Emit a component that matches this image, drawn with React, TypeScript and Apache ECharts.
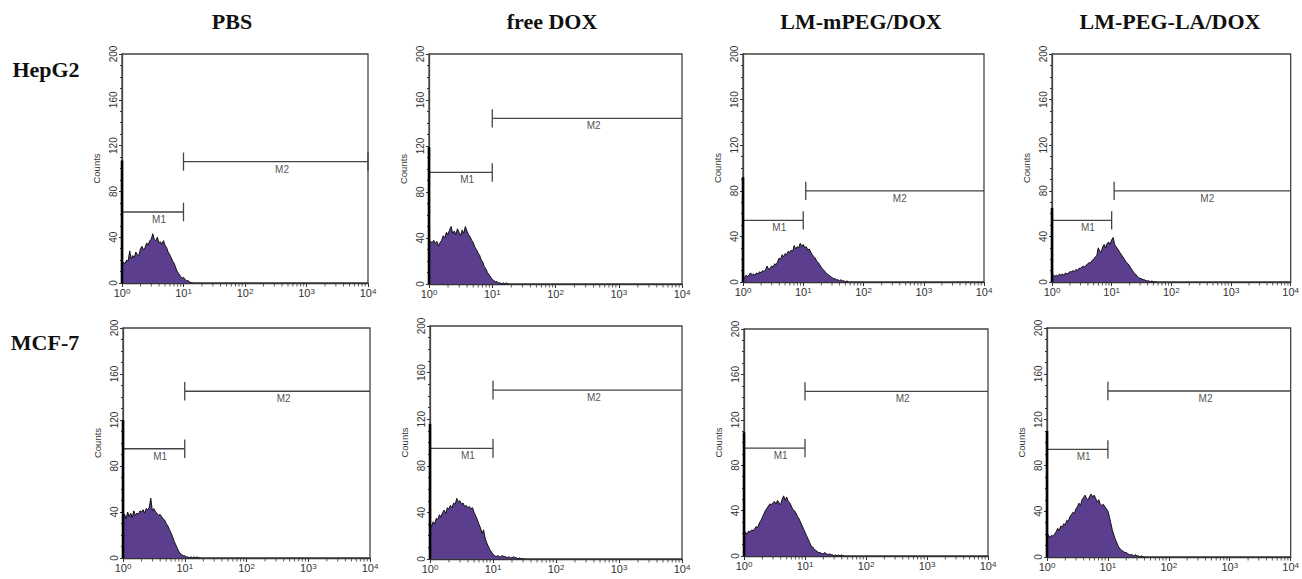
import React, { useEffect, useRef } from "react";
import * as echarts from "echarts";

// ---------- text ----------
const COLUMN_TITLES = ["PBS", "free DOX", "LM-mPEG/DOX", "LM-PEG-LA/DOX"];
const ROW_TITLES = ["HepG2", "MCF-7"];
const Y_AXIS_NAME = "Counts";
const MARKER_NAMES = ["M1", "M2"];

// ---------- histogram data (counts per channel, channels spaced 0.025 decade from 10^0) ----------
const BIN_STEP_LOG = 0.025;

const HEPG2_PBS = [16, 18, 17, 20, 19, 28, 21, 24, 22, 27, 25, 24, 30, 32, 29, 31, 35, 33, 37, 38, 43, 38, 37, 40, 35, 36, 34, 37, 33, 31, 27, 25, 22, 19, 17, 13, 10, 8, 6, 4, 5, 3, 2, 2, 1, 0, 0];
const HEPG2_FREE_DOX = [38, 37, 36, 38, 35, 37, 33, 36, 38, 42, 40, 45, 43, 47, 50, 44, 46, 43, 48, 45, 42, 47, 44, 50, 46, 43, 41, 38, 36, 32, 30, 27, 25, 21, 19, 15, 13, 10, 8, 6, 4, 3, 2, 2, 1, 1, 0, 1, 0, 1, 0];
const HEPG2_MPEG = [5, 4, 6, 5, 6, 8, 6, 7, 6, 8, 7, 9, 8, 10, 9, 11, 14, 11, 12, 14, 13, 16, 15, 18, 21, 20, 24, 22, 25, 24, 27, 26, 28, 27, 32, 29, 31, 30, 34, 31, 33, 30, 31, 28, 29, 26, 24, 22, 21, 18, 17, 15, 13, 11, 10, 8, 7, 6, 5, 4, 3, 3, 2, 2, 1, 2, 1, 1, 0, 1, 0];
const HEPG2_PEG_LA = [5, 6, 5, 6, 5, 7, 6, 7, 6, 8, 7, 8, 9, 9, 10, 9, 11, 10, 12, 12, 13, 14, 13, 15, 16, 17, 17, 19, 20, 22, 23, 30, 27, 26, 31, 33, 30, 34, 35, 33, 37, 39, 33, 31, 29, 27, 25, 23, 21, 19, 17, 16, 14, 12, 10, 8, 7, 5, 4, 3, 3, 2, 2, 1, 1, 1, 0, 1, 0, 0, 0];
const MCF7_PBS = [35, 38, 34, 40, 36, 39, 35, 41, 37, 39, 38, 41, 40, 42, 39, 43, 42, 44, 52, 41, 43, 40, 39, 37, 38, 36, 34, 33, 30, 28, 25, 22, 19, 15, 12, 9, 6, 4, 3, 2, 2, 1, 1, 0, 1, 0, 1, 0, 1, 0, 0];
const MCF7_FREE_DOX = [31, 28, 32, 30, 35, 34, 38, 36, 40, 42, 39, 44, 43, 46, 44, 48, 47, 52, 49, 50, 47, 48, 45, 46, 44, 45, 43, 44, 40, 37, 34, 30, 27, 22, 25, 18, 14, 11, 8, 6, 4, 3, 2, 3, 2, 2, 3, 2, 2, 1, 2, 1, 1, 2, 1, 1, 0, 1, 0, 0, 0];
const MCF7_MPEG = [20, 21, 19, 22, 21, 23, 22, 24, 26, 25, 29, 31, 34, 37, 40, 42, 44, 46, 45, 47, 48, 46, 49, 47, 45, 50, 53, 49, 52, 48, 47, 44, 41, 40, 38, 35, 33, 30, 27, 24, 21, 18, 15, 12, 9, 8, 6, 5, 4, 3, 3, 2, 2, 3, 2, 1, 2, 1, 1, 0, 1, 0, 1, 0, 1, 0, 0];
const MCF7_PEG_LA = [21, 19, 17, 19, 18, 20, 22, 25, 23, 27, 26, 29, 28, 32, 31, 35, 37, 39, 38, 42, 44, 47, 45, 50, 52, 54, 51, 50, 53, 55, 52, 54, 51, 48, 50, 46, 45, 46, 44, 42, 40, 35, 29, 23, 19, 15, 12, 9, 7, 6, 5, 4, 4, 3, 2, 2, 2, 1, 2, 1, 1, 0, 1, 0, 0];

const PANEL_VALUES = [HEPG2_PBS, HEPG2_FREE_DOX, HEPG2_MPEG, HEPG2_PEG_LA, MCF7_PBS, MCF7_FREE_DOX, MCF7_MPEG, MCF7_PEG_LA];
// first-channel pile-up counts (at 10^0)
const FIRST_CHANNEL = [107, 119, 92, 65, 120, 116, 109, 110];

// ---------- gate markers ----------
const M1_LEVEL = [62, 97, 54, 54, 95, 95, 95, 94];
const M2_LEVEL = [106, 144, 80, 80, 145, 145, 145, 145];
const M1_FROM = 1;
const M1_TO = 10;
const M2_FROM = [10, 10, 11, 11, 10, 10, 10, 10];
const M2_TO = 10000;
const M2_END_CAP = [true, false, false, false, false, false, false, false];
const MARKER_LABEL_X = [4, 400];

// ---------- axes ----------
const Y_MIN = 0;
const Y_MAX = 200;
const Y_INTERVAL = 40;
const X_MIN = 1;
const X_MAX = 10000;
const X_MINOR_MULTIPLIERS = [2, 3, 4, 5, 6, 7, 8, 9];
const X_DECADE_STARTS = [1, 10, 100, 1000];

// ---------- layout (pixels) ----------
const PANEL_BOXES = [
  { left: 122, top: 54, width: 246, height: 229 },
  { left: 429, top: 54, width: 253, height: 230 },
  { left: 743, top: 54, width: 241, height: 228 },
  { left: 1052, top: 54, width: 242, height: 228 },
  { left: 123, top: 328, width: 247, height: 230 },
  { left: 430, top: 326, width: 252, height: 233 },
  { left: 744, top: 329, width: 244, height: 227 },
  { left: 1047, top: 328, width: 246, height: 229 },
];
const COLUMN_TITLE_X = [232, 552, 861, 1170];
const COLUMN_TITLE_Y = 21;
const ROW_TITLE_POS = [
  { x: 46, y: 69 },
  { x: 45, y: 342 },
];
const CAP_HALF = 8;

const PURPLE = "#5b3f8e";
const SMALL_FONT = "Liberation Sans, Arial, sans-serif";
const TITLE_FONT = "Liberation Serif, Times New Roman, serif";

function buildOption() {
  const grids: any[] = [];
  const xAxes: any[] = [];
  const yAxes: any[] = [];
  const series: any[] = [];
  const minorTicks: number[][] = [];
  X_DECADE_STARTS.forEach((d) => X_MINOR_MULTIPLIERS.forEach((m) => minorTicks.push([d * m, 0])));

  PANEL_BOXES.forEach((box, i) => {
    grids.push({
      left: box.left,
      top: box.top,
      width: box.width,
      height: box.height,
      show: true,
      borderColor: "#444",
      borderWidth: 1.3,
      backgroundColor: "transparent",
      containLabel: false,
    });
    xAxes.push({
      gridIndex: i,
      type: "log",
      logBase: 10,
      min: X_MIN,
      max: X_MAX,
      axisLine: { show: true, onZero: false, lineStyle: { color: "#333", width: 1.3 } },
      axisTick: { show: true, inside: false, length: 4, lineStyle: { color: "#333", width: 1 } },
      splitLine: { show: false },
      axisLabel: {
        margin: 4,
        color: "#333",
        fontFamily: SMALL_FONT,
        formatter: (v: number) => "{b|10}{s|" + Math.round(Math.log10(v)) + "}",
        rich: {
          b: { fontSize: 11, color: "#333", fontFamily: SMALL_FONT, verticalAlign: "bottom" },
          s: { fontSize: 8, color: "#333", fontFamily: SMALL_FONT, verticalAlign: "top" },
        },
      },
    });
    yAxes.push({
      gridIndex: i,
      type: "value",
      min: Y_MIN,
      max: Y_MAX,
      interval: Y_INTERVAL,
      axisLine: { show: true, lineStyle: { color: "#444", width: 1.3 } },
      axisTick: { show: true, inside: false, length: 3, lineStyle: { color: "#333" } },
      minorTick: { show: true, splitNumber: 4, length: 2, lineStyle: { color: "#333" } },
      splitLine: { show: false },
      minorSplitLine: { show: false },
      axisLabel: { rotate: 90, fontSize: 10, color: "#333", margin: 4, fontFamily: SMALL_FONT },
      name: Y_AXIS_NAME,
      nameLocation: "middle",
      nameGap: 21,
      nameRotate: 90,
      nameTextStyle: { fontSize: 9.5, color: "#333", fontFamily: SMALL_FONT },
    });

    const vals = PANEL_VALUES[i];
    const histData: number[][] = [];
    vals.forEach((v, k) => histData.push([Math.pow(10, k * BIN_STEP_LOG), v]));
    series.push({
      type: "line",
      xAxisIndex: i,
      yAxisIndex: i,
      data: histData,
      symbol: "none",
      silent: true,
      lineStyle: { color: "#111", width: 1 },
      areaStyle: { color: PURPLE, opacity: 1 },
      z: 3,
    });
    // first channel pile-up drawn as a thick bar on the left edge
    series.push({
      type: "line",
      xAxisIndex: i,
      yAxisIndex: i,
      data: [
        [X_MIN, 0],
        [X_MIN, FIRST_CHANNEL[i]],
      ],
      symbol: "none",
      silent: true,
      clip: false,
      lineStyle: { color: "#000", width: 2.6 },
      z: 7,
    });

    const m1 = M1_LEVEL[i];
    series.push({
      type: "line",
      xAxisIndex: i,
      yAxisIndex: i,
      data: [
        [M1_FROM, m1],
        [M1_TO, m1],
        [M1_TO, m1 + CAP_HALF],
        [M1_TO, m1 - CAP_HALF],
      ],
      symbol: "none",
      silent: true,
      lineStyle: { color: "#444", width: 1.3 },
      z: 4,
    });
    const m2 = M2_LEVEL[i];
    const m2Data: number[][] = [
      [M2_FROM[i], m2 + CAP_HALF],
      [M2_FROM[i], m2 - CAP_HALF],
      [M2_FROM[i], m2],
      [M2_TO, m2],
    ];
    if (M2_END_CAP[i]) {
      m2Data.push([M2_TO, m2 + CAP_HALF], [M2_TO, m2 - CAP_HALF]);
    }
    series.push({
      type: "line",
      xAxisIndex: i,
      yAxisIndex: i,
      data: m2Data,
      symbol: "none",
      silent: true,
      lineStyle: { color: "#444", width: 1.3 },
      z: 4,
    });
    series.push({
      type: "scatter",
      xAxisIndex: i,
      yAxisIndex: i,
      data: [
        { value: [MARKER_LABEL_X[0], m1], name: MARKER_NAMES[0] },
        { value: [MARKER_LABEL_X[1], m2], name: MARKER_NAMES[1] },
      ],
      symbolSize: 1,
      itemStyle: { color: "rgba(0,0,0,0)" },
      silent: true,
      label: {
        show: true,
        position: "bottom",
        distance: 2,
        formatter: (p: any) => p.name,
        fontSize: 10,
        color: "#222",
        textBorderWidth: 0,
        fontFamily: SMALL_FONT,
      },
      z: 5,
    });
    series.push({
      type: "scatter",
      xAxisIndex: i,
      yAxisIndex: i,
      data: minorTicks,
      symbol: "rect",
      symbolSize: [1, 3],
      symbolOffset: [0, 2],
      itemStyle: { color: "#333" },
      clip: false,
      silent: true,
      z: 6,
    });
  });

  const graphic: any[] = [];
  COLUMN_TITLES.forEach((t, c) => {
    graphic.push({
      type: "text",
      x: COLUMN_TITLE_X[c],
      y: COLUMN_TITLE_Y,
      style: {
        text: t,
        fill: "#111",
        font: "bold 22px " + TITLE_FONT,
        textAlign: "center",
        textVerticalAlign: "middle",
      },
    });
  });
  ROW_TITLES.forEach((t, r) => {
    graphic.push({
      type: "text",
      x: ROW_TITLE_POS[r].x,
      y: ROW_TITLE_POS[r].y,
      style: {
        text: t,
        fill: "#111",
        font: "bold 22px " + TITLE_FONT,
        textAlign: "center",
        textVerticalAlign: "middle",
      },
    });
  });

  return {
    animation: false,
    backgroundColor: "#ffffff",
    grid: grids,
    xAxis: xAxes,
    yAxis: yAxes,
    series,
    graphic,
  };
}

export default function App() {
  const ref = useRef<HTMLDivElement>(null);
  useEffect(() => {
    document.body.style.margin = "0";
    if (!ref.current) return;
    const chart = echarts.init(ref.current, undefined, { renderer: "svg" });
    chart.setOption(buildOption() as any);
    return () => chart.dispose();
  }, []);
  return <div ref={ref} style={{ width: 1302, height: 579, position: "absolute", left: 0, top: 0 }} />;
}
